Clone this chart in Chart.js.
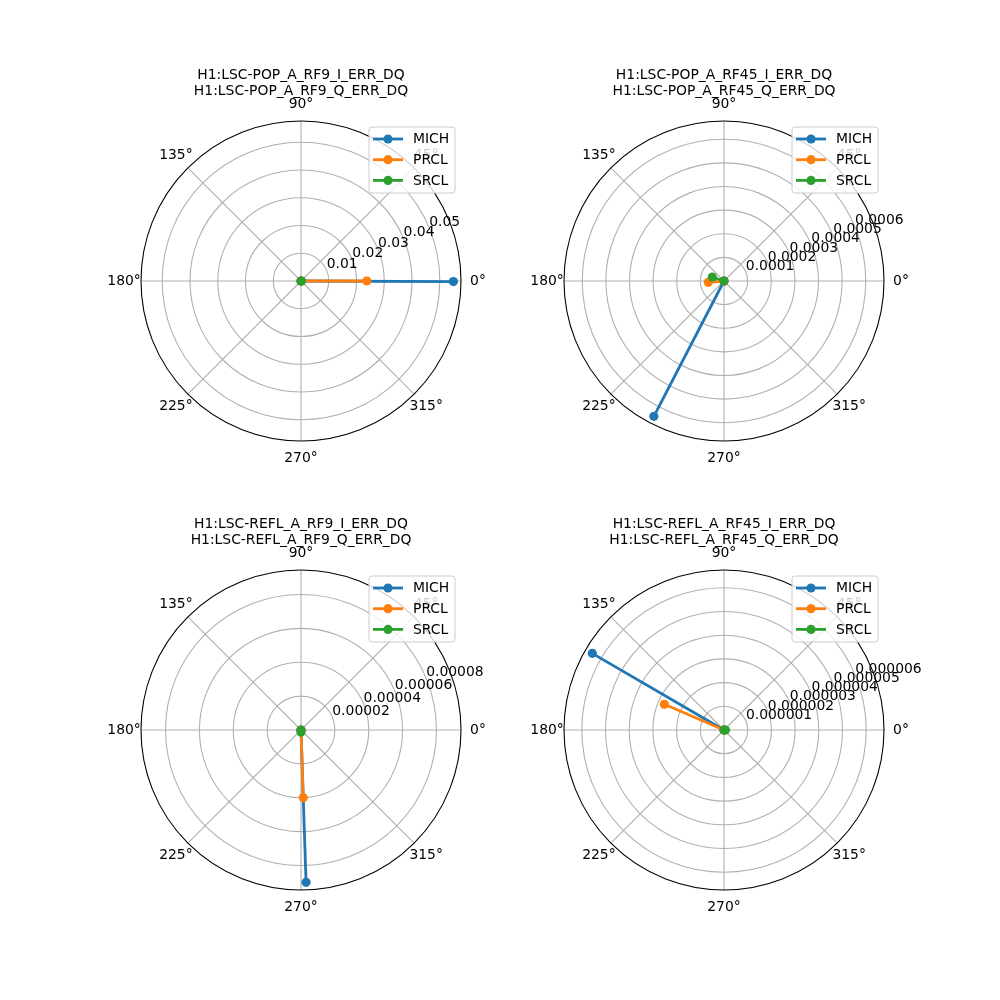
<!DOCTYPE html>
<html>
<head>
<meta charset="utf-8">
<script src="https://cdn.jsdelivr.net/npm/chart.js@4.4.1/dist/chart.umd.min.js"></script>
<style>
    body { margin: 0; background: #ffffff; }
    #wrap { position: relative; width: 1000px; height: 1000px; overflow: hidden; }
    canvas { position: absolute; }
</style>
</head>
<body>
<div id="wrap"></div>
<script>
// --- data ---
const seriesNames = ['MICH', 'PRCL', 'SRCL'];
const seriesColors = ['#1f77b4', '#ff7f0e', '#2ca02c'];

const titleLine1 = ['H1:LSC-POP_A_RF9_I_ERR_DQ', 'H1:LSC-POP_A_RF45_I_ERR_DQ',
                    'H1:LSC-REFL_A_RF9_I_ERR_DQ', 'H1:LSC-REFL_A_RF45_I_ERR_DQ'];
const titleLine2 = ['H1:LSC-POP_A_RF9_Q_ERR_DQ', 'H1:LSC-POP_A_RF45_Q_ERR_DQ',
                    'H1:LSC-REFL_A_RF9_Q_ERR_DQ', 'H1:LSC-REFL_A_RF45_Q_ERR_DQ'];

// magnitude per panel, order MICH, PRCL, SRCL
const magPopRf9 = [0.0549, 0.0237, 0.0002];
const magPopRf45 = [0.000645, 0.0000667, 0.0000523];
const magReflRf9 = [0.0000900, 0.0000400, 0.0000012];
const magReflRf45 = [0.00000643, 0.00000274, 0.00000006];

// phase in degrees per panel, order MICH, PRCL, SRCL
const phasePopRf9 = [-0.2, 0, 0];
const phasePopRf45 = [242.6, 184.7, 161];
const phaseReflRf9 = [271.9, 271.9, 270];
const phaseReflRf45 = [149.8, 156.7, 0];

// radial tick values and labels per panel
const rTicksPopRf9 = [0.01, 0.02, 0.03, 0.04, 0.05];
const rLabelsPopRf9 = ['0.01', '0.02', '0.03', '0.04', '0.05'];
const rTicksPopRf45 = [0.0001, 0.0002, 0.0003, 0.0004, 0.0005, 0.0006];
const rLabelsPopRf45 = ['0.0001', '0.0002', '0.0003', '0.0004', '0.0005', '0.0006'];
const rTicksReflRf9 = [0.00002, 0.00004, 0.00006, 0.00008];
const rLabelsReflRf9 = ['0.00002', '0.00004', '0.00006', '0.00008'];
const rTicksReflRf45 = [0.000001, 0.000002, 0.000003, 0.000004, 0.000005, 0.000006];
const rLabelsReflRf45 = ['0.000001', '0.000002', '0.000003', '0.000004', '0.000005', '0.000006'];

const thetaTicks = [0, 45, 90, 135, 180, 225, 270, 315];
const thetaLabels = ['0°', '45°', '90°', '135°', '180°', '225°', '270°', '315°'];

const panels = [
    {mag: magPopRf9, phase: phasePopRf9, ticks: rTicksPopRf9, labels: rLabelsPopRf9, cx: 301, cy: 281},
    {mag: magPopRf45, phase: phasePopRf45, ticks: rTicksPopRf45, labels: rLabelsPopRf45, cx: 724, cy: 281},
    {mag: magReflRf9, phase: phaseReflRf9, ticks: rTicksReflRf9, labels: rLabelsReflRf9, cx: 301, cy: 730},
    {mag: magReflRf45, phase: phaseReflRf45, ticks: rTicksReflRf45, labels: rLabelsReflRf45, cx: 724, cy: 730},
];

const FONT = '13.9px "DejaVu Sans", sans-serif';
const CW = 420, CH = 440, OX = 210, OY = 225, R = 160;

// draws the polar frame, labels, title and legend around the scatter scales
const polarPlugin = {
    id: 'polarFrame',
    beforeDatasetsDraw(chart, args, opts) {
        const ctx = chart.ctx;
        const xs = chart.scales.x, ys = chart.scales.y;
        const cx = xs.getPixelForValue(0), cy = ys.getPixelForValue(0);
        const rmax = xs.max;
        const rad = xs.getPixelForValue(rmax) - cx;
        ctx.save();
        ctx.strokeStyle = '#b0b0b0';
        ctx.lineWidth = 1.1;
        opts.ticks.forEach(t => {
            ctx.beginPath();
            ctx.arc(cx, cy, xs.getPixelForValue(t) - cx, 0, Math.PI * 2);
            ctx.stroke();
        });
        thetaTicks.forEach(d => {
            const a = d * Math.PI / 180;
            ctx.beginPath();
            ctx.moveTo(cx, cy);
            ctx.lineTo(cx + rad * Math.cos(a), cy - rad * Math.sin(a));
            ctx.stroke();
        });
        ctx.strokeStyle = '#000000';
        ctx.lineWidth = 1.1;
        ctx.beginPath();
        ctx.arc(cx, cy, rad, 0, Math.PI * 2);
        ctx.stroke();
        ctx.restore();
    },
    afterDatasetsDraw(chart, args, opts) {
        const ctx = chart.ctx;
        const xs = chart.scales.x, ys = chart.scales.y;
        const cx = xs.getPixelForValue(0), cy = ys.getPixelForValue(0);
        const rad = xs.getPixelForValue(xs.max) - cx;
        ctx.save();
        ctx.font = FONT;
        ctx.fillStyle = '#000000';

        // angle labels
        ctx.textAlign = 'center';
        ctx.textBaseline = 'middle';
        thetaTicks.forEach((d, i) => {
            const a = d * Math.PI / 180;
            ctx.fillText(thetaLabels[i], cx + rad * 1.106 * Math.cos(a), cy - rad * 1.106 * Math.sin(a));
        });

        // radial labels at 22.5 deg
        ctx.textAlign = 'left';
        ctx.textBaseline = 'bottom';
        const ra = 22.5 * Math.PI / 180;
        opts.ticks.forEach((t, i) => {
            const p = xs.getPixelForValue(t) - cx;
            ctx.fillText(opts.labels[i], cx + p * Math.cos(ra), cy - p * Math.sin(ra) + 1);
        });

        // title
        ctx.textAlign = 'center';
        ctx.textBaseline = 'middle';
        ctx.fillText(opts.title1, cx, cy - 206);
        ctx.fillText(opts.title2, cx, cy - 189.5);

        // legend
        const lx = cx + 68, ly = cy - 154, lw = 86, lh = 66;
        ctx.beginPath();
        ctx.roundRect(lx, ly, lw, lh, 3);
        ctx.fillStyle = 'rgba(255,255,255,0.8)';
        ctx.fill();
        ctx.strokeStyle = '#cccccc';
        ctx.lineWidth = 1;
        ctx.stroke();
        seriesNames.forEach((n, i) => {
            const y = cy - 142 + i * 20.7;
            ctx.strokeStyle = seriesColors[i];
            ctx.lineWidth = 2.8;
            ctx.beginPath();
            ctx.moveTo(cx + 72, y);
            ctx.lineTo(cx + 102, y);
            ctx.stroke();
            ctx.fillStyle = seriesColors[i];
            ctx.beginPath();
            ctx.arc(cx + 87, y, 4.6, 0, Math.PI * 2);
            ctx.fill();
            ctx.fillStyle = '#000000';
            ctx.textAlign = 'left';
            ctx.fillText(n, cx + 112, y + 0.5);
        });
        ctx.restore();
    }
};

function polarPoint(mag, deg) {
    const a = deg * Math.PI / 180;
    return {x: mag * Math.cos(a), y: mag * Math.sin(a)};
}

function getData(panel) {
    return {
        datasets: seriesNames.map((name, i) => ({
            label: name,
            data: [{x: 0, y: 0}, polarPoint(panel.mag[i], panel.phase[i])],
            showLine: true,
            borderColor: seriesColors[i],
            backgroundColor: seriesColors[i],
            borderWidth: 2.8,
            pointRadius: 4.6,
            pointHoverRadius: 4.6,
            pointBorderWidth: 0,
            order: seriesNames.length - i,
        })),
    };
}

function getConfig(panel, idx) {
    const rmax = Math.max(...panel.mag) * 1.05;
    return {
        type: 'scatter',
        data: getData(panel),
        options: {
            responsive: false,
            animation: false,
            devicePixelRatio: 1,
            events: [],
            layout: {padding: {left: OX - R, right: CW - OX - R, top: OY - R, bottom: CH - OY - R}},
            scales: {
                x: {type: 'linear', min: -rmax, max: rmax, display: false},
                y: {type: 'linear', min: -rmax, max: rmax, display: false},
            },
            plugins: {
                legend: {display: false},
                tooltip: {enabled: false},
                polarFrame: {ticks: panel.ticks, labels: panel.labels,
                             title1: titleLine1[idx], title2: titleLine2[idx]},
            },
        },
        plugins: [polarPlugin],
    };
}

const wrap = document.getElementById('wrap');
panels.forEach((panel, idx) => {
    const cv = document.createElement('canvas');
    cv.width = CW;
    cv.height = CH;
    cv.style.left = (panel.cx - OX) + 'px';
    cv.style.top = (panel.cy - OY) + 'px';
    cv.style.width = CW + 'px';
    cv.style.height = CH + 'px';
    wrap.appendChild(cv);
    new Chart(cv, getConfig(panel, idx));
});
</script>
</body>
</html>
